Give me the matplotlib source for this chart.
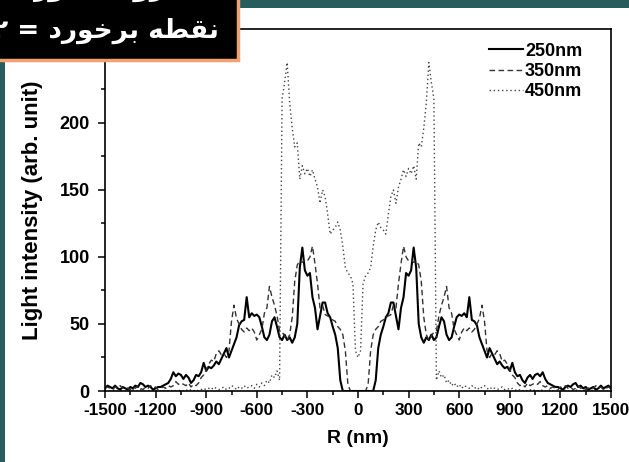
import matplotlib
matplotlib.use("Agg")
import matplotlib.pyplot as plt
import numpy as np
from matplotlib.patches import Rectangle

# half profiles (R >= 0), the measured curves are mirror symmetric about R = 0
r_half = np.arange(0, 1501, 15)

i_250 = [0, 0, 0, 0, 0, 0, 0, 8, 32, 42,
         48, 55, 58, 66, 66, 56, 46, 62, 70, 88,
         86, 90, 107, 92, 50, 40, 36, 40, 38, 42,
         38, 40, 48, 55, 52, 42, 38, 40, 48, 55,
         57, 56, 58, 55, 70, 53, 52, 49, 40, 35,
         30, 25, 32, 28, 24, 20, 22, 19, 17, 18,
         15, 21, 14, 11, 12, 8, 6, 10, 12, 9,
         12, 13, 11, 14, 9, 6, 5, 4, 3, 3,
         2, 1, 3, 4, 3, 5, 6, 3, 4, 2,
         3, 1, 2, 3, 1, 2, 4, 2, 3, 4, 2]

i_350 = [0, 0, 0, 0, 5, 30, 42, 46, 48, 52,
         53, 55, 56, 57, 64, 62, 80, 95, 108, 100,
         97, 98, 96, 97, 94, 82, 55, 42, 38, 41,
         44, 45, 56, 64, 70, 78, 62, 58, 46, 42,
         38, 44, 47, 45, 47, 44, 46, 50, 54, 64,
         52, 30, 25, 28, 27, 30, 28, 22, 23, 20,
         16, 12, 10, 6, 4, 5, 3, 6, 4, 5,
         6, 5, 7, 4, 3, 4, 2, 3, 2, 1,
         3, 2, 4, 2, 3, 1, 2, 4, 2, 3,
         1, 2, 3, 2, 4, 2, 3, 1, 2, 3, 2]

i_450 = [25, 30, 80, 86, 88, 92, 108, 120, 126, 122,
         120, 117, 132, 145, 150, 140, 152, 158, 165, 160,
         166, 162, 168, 158, 185, 182, 196, 215, 245, 230,
         218, 8, 15, 10, 12, 6, 8, 4, 6, 3,
         5, 2, 4, 3, 2, 4, 2, 3, 1, 3,
         4, 2, 1, 3, 2, 1, 2, 3, 1, 2,
         1, 2, 1, 0, 1, 0, 1, 0, 1, 0,
         1, 0, 0, 1, 0, 0, 1, 0, 0, 1,
         0, 0, 1, 0, 0, 0, 1, 0, 0, 1,
         0, 0, 0, 1, 0, 0, 0, 1, 0, 0, 0]

labels = ["250nm", "350nm", "450nm"]
x_ticks = [-1500, -1200, -900, -600, -300, 0, 300, 600, 900, 1200, 1500]
y_ticks = [0, 50, 100, 150, 200]


def full(half):
    half = np.asarray(half, dtype=float)
    return np.concatenate([half[::-1], half[1:]])


r = np.concatenate([-r_half[::-1], r_half[1:]])

plt.rcParams['font.family'] = ['Liberation Sans', 'DejaVu Sans']
plt.rcParams['font.weight'] = 'bold'
plt.rcParams['axes.unicode_minus'] = False

W, H = 629, 462
fig = plt.figure(figsize=(W / 100, H / 100), dpi=100)
ax = fig.add_axes([105 / W, 1 - 391 / H, 506 / W, 362 / H])

ax.plot(r, full(i_250), color='black', lw=1.5, ls='-', label=labels[0])
ax.plot(r, full(i_350), color='#333333', lw=1.0, ls=(0, (4, 2.5)), label=labels[1])
ax.plot(r, full(i_450), color='#444444', lw=1.0, ls=(0, (1, 2)), label=labels[2])

ax.set_xlim(-1500, 1500)
ax.set_ylim(0, 270)
ax.set_xticks(x_ticks)
ax.set_xticks(np.arange(-1350, 1500, 300), minor=True)
ax.set_yticks(y_ticks)
ax.set_yticks([25, 75, 125, 175, 225, 250], minor=True)
ax.tick_params(which='both', direction='out', top=False, right=False, width=1.1)
ax.tick_params(which='major', length=5)
ax.tick_params(which='minor', length=3)
ax.tick_params(axis='x', labelsize=12.3)
ax.tick_params(axis='y', labelsize=13, pad=6)
for sp in ax.spines.values():
    sp.set_linewidth(1.2)

ax.set_xlabel("R (nm)", fontsize=14, fontweight='bold', labelpad=9)
ax.set_ylabel("Light intensity (arb. unit)", fontsize=16, fontweight='bold', labelpad=12)

ax.legend(loc='upper right', bbox_to_anchor=(0.943, 0.962), frameon=False, fontsize=13,
          handlelength=1.9, handletextpad=0.1, labelspacing=0.18,
          borderpad=0, borderaxespad=0)

# frame of the slide the chart sits on
teal = '#275d5d'
fig.add_artist(Rectangle((0, 1 - 8 / H), 1, 8 / H, transform=fig.transFigure,
                         facecolor=teal, edgecolor='none', zorder=5))
fig.add_artist(Rectangle((0, 0), 5 / W, 1, transform=fig.transFigure,
                         facecolor=teal, edgecolor='none', zorder=5))
fig.add_artist(Rectangle((-10 / W, 1 - 60 / H), 248 / W, 70 / H, transform=fig.transFigure,
                         facecolor='black', edgecolor='#f4a070', lw=2.5, zorder=6))

# Persian caption, written in presentation forms and visual order
line1 = "\uFEAD\uFEEE\uFEA4\uFEE3 \uFBFC\uFEED\uFEAD"
line2 = "\u06F2 = \uFEA9\uFEAD\uFEEE\uFEA7\uFEAE\uFE91 \uFEEA\uFEC4\uFED8\uFEE7"
fig.text(165 / W, 1 + 3 / H, line1, color='white', fontsize=19, fontweight='bold',
         family='DejaVu Sans', ha='right', va='baseline', zorder=7)
fig.text(219 / W, 1 - 31 / H, line2, color='white', fontsize=19, fontweight='bold',
         family='DejaVu Sans', ha='right', va='center', zorder=7)

fig.savefig("out.png", dpi=100)
